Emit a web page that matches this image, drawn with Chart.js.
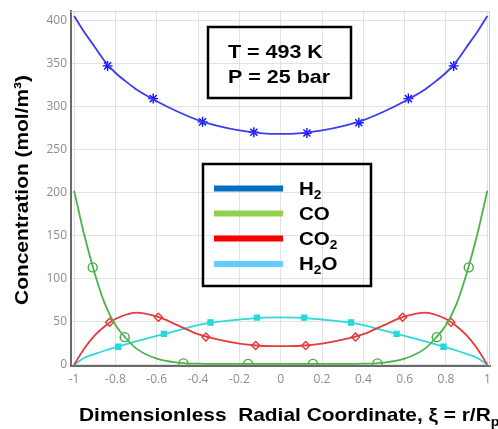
<!DOCTYPE html>
<html>
<head>
<meta charset="utf-8">
<script src="https://cdn.jsdelivr.net/npm/chart.js@4/dist/chart.umd.min.js"></script>
<style>
  html, body { margin: 0; padding: 0; background: #fff; }
  canvas { display: block; }
</style>
</head>
<body>
<canvas id="chart" width="498" height="429"></canvas>
<script>
const xi = [-1, -0.95, -0.9, -0.85, -0.8, -0.75, -0.7, -0.6, -0.5, -0.4, -0.3, -0.2, -0.1, 0,
  0.1, 0.2, 0.3, 0.4, 0.5, 0.6, 0.7, 0.75, 0.8, 0.85, 0.9, 0.95, 1];

const h2 = [405, 386, 369, 352, 339, 329, 320, 306, 294, 284, 277, 272, 269, 268,
  269, 272, 277, 284, 294, 306, 320, 329, 339, 352, 369, 386, 405];
const co = [202, 150, 106, 70, 46, 31, 19, 7, 2.5, 1.2, 1, 1, 1, 1,
  1, 1, 1, 1.2, 2.5, 7, 19, 31, 46, 70, 106, 150, 202];
const co2 = [0, 19, 34, 45, 53, 58, 60.5, 56, 46, 35.5, 29, 24.5, 22, 21.5,
  22, 24.5, 29, 35.5, 46, 56, 60.5, 58, 53, 45, 34, 19, 0];
const h2o = [0, 8, 12.5, 16.5, 20, 23.5, 27, 33.5, 39.5, 46, 50, 52.5, 54.5, 55,
  54.5, 52.5, 50, 46, 39.5, 33.5, 27, 23.5, 20, 16.5, 12.5, 8, 0];

// marker positions
const h2MarkX = [-0.838, -0.617, -0.378, -0.13, 0.127, 0.378, 0.618, 0.837];
const h2MarkY = [347, 309, 282, 270, 269, 281, 309, 347];
const coMarkX = [-0.91, -0.755, -0.471, -0.158, 0.156, 0.468, 0.755, 0.91];
const coMarkY = [113, 32, 1.5, 1, 1, 1.5, 32, 113];
const co2MarkX = [-0.828, -0.592, -0.362, -0.121, 0.121, 0.362, 0.59, 0.824];
const co2MarkY = [49.3, 55, 32.3, 22.4, 22.4, 32.3, 55, 49.3];
const h2oMarkX = [-0.786, -0.565, -0.34, -0.115, 0.113, 0.34, 0.561, 0.788];
const h2oMarkY = [20.8, 35.8, 49, 54.7, 54.7, 49, 35.8, 20.8];

const xTicks = [-1, -0.8, -0.6, -0.4, -0.2, 0, 0.2, 0.4, 0.6, 0.8, 1];
const yTicks = [0, 50, 100, 150, 200, 250, 300, 350, 400];

const species = [
  { name: 'H', sub: '2', tail: '', key: '#0070c0' },
  { name: 'CO', sub: '', tail: '', key: '#92d050' },
  { name: 'CO', sub: '2', tail: '', key: '#ff0000' },
  { name: 'H', sub: '2', tail: 'O', key: '#66ccff' },
];
const conditions = ['T = 493 K', 'P = 25 bar'];

const pts = (xs, ys) => xs.map((x, i) => ({ x: x, y: ys[i] }));

const curve = (data, color) => ({
  data: data, showLine: true, borderColor: color, borderWidth: 1.8, pointRadius: 0,
  cubicInterpolationMode: 'monotone', fill: false,
});
const marks = (data, color, style, radius, filled) => ({
  data: data, showLine: false, pointStyle: style, pointRadius: radius,
  pointBorderColor: color, pointBorderWidth: 1.4,
  pointBackgroundColor: filled ? color : 'rgba(0,0,0,0)',
});

// draws text stretched horizontally, the source text is wider than it is tall
function wideText(ctx, str, x, y, sx) {
  ctx.save();
  ctx.translate(x, y);
  ctx.scale(sx, 1);
  ctx.fillText(str, 0, 0);
  const w = ctx.measureText(str).width * sx;
  ctx.restore();
  return w;
}

const decorations = {
  id: 'decorations',
  beforeDatasetsDraw(chart) {
    const { ctx, chartArea: a } = chart;
    ctx.save();
    ctx.strokeStyle = '#cfcfcf';
    ctx.lineWidth = 1;
    ctx.beginPath();
    ctx.moveTo(a.left, a.top + 0.5);
    ctx.lineTo(a.right - 0.5, a.top + 0.5);
    ctx.lineTo(a.right - 0.5, a.bottom);
    ctx.stroke();
    ctx.restore();
  },
  afterDraw(chart) {
    const ctx = chart.ctx;
    ctx.save();
    ctx.fillStyle = '#000';
    ctx.strokeStyle = '#000';
    ctx.textBaseline = 'alphabetic';

    // conditions box
    ctx.lineWidth = 2.5;
    ctx.strokeRect(208, 27, 143, 71);
    ctx.font = 'bold 19px "Liberation Sans", Arial, sans-serif';
    wideText(ctx, conditions[0], 228, 58, 1.13);
    wideText(ctx, conditions[1], 228, 83, 1.13);

    // legend box
    ctx.strokeRect(203, 164, 168, 122);
    const rows = [188.5, 213.5, 238.5, 264];
    species.forEach((s, i) => {
      ctx.fillStyle = s.key;
      ctx.fillRect(214, rows[i] - 3, 69, 6);
      ctx.fillStyle = '#000';
      ctx.font = 'bold 18px "Liberation Sans", Arial, sans-serif';
      let x = 299;
      x += wideText(ctx, s.name, x, rows[i] + 6, 1.14);
      if (s.sub) {
        ctx.font = 'bold 12px "Liberation Sans", Arial, sans-serif';
        x += wideText(ctx, s.sub, x, rows[i] + 10, 1.14);
      }
      if (s.tail) {
        ctx.font = 'bold 18px "Liberation Sans", Arial, sans-serif';
        wideText(ctx, s.tail, x, rows[i] + 6, 1.14);
      }
    });

    // x axis title
    ctx.font = 'bold 19px "Liberation Sans", Arial, sans-serif';
    let tx = 79;
    tx += wideText(ctx, 'Dimensionless  Radial Coordinate, \u03be = r/R', tx, 421, 1.1);
    ctx.font = 'bold 13px "Liberation Sans", Arial, sans-serif';
    wideText(ctx, 'p', tx, 426, 1.1);

    // y axis title
    ctx.translate(28, 190);
    ctx.rotate(-Math.PI / 2);
    ctx.font = 'bold 19px "Liberation Sans", Arial, sans-serif';
    ctx.textAlign = 'center';
    ctx.scale(1.1, 1);
    ctx.fillText('Concentration (mol/m\u00b3)', 0, 0);
    ctx.restore();
  },
};

new Chart(document.getElementById('chart'), {
  type: 'scatter',
  data: {
    datasets: [
      curve(pts(xi, h2), '#3b3bf0'),
      curve(pts(xi, co), '#4cb34c'),
      curve(pts(xi, co2), '#e53b3b'),
      curve(pts(xi, h2o), '#2dd9dc'),
      marks(pts(h2MarkX, h2MarkY), '#1010ff', 'star', 5, false),
      marks(pts(coMarkX, coMarkY), '#3faa3f', 'circle', 4.5, false),
      marks(pts(co2MarkX, co2MarkY), '#e03a3a', 'rectRot', 4, false),
      marks(pts(h2oMarkX, h2oMarkY), '#22d8dc', 'rect', 3.5, true),
    ],
  },
  options: {
    responsive: false,
    animation: false,
    devicePixelRatio: 1,
    layout: { padding: { top: 10, right: 8, left: 0, bottom: 0 } },
    plugins: { legend: { display: false }, tooltip: { enabled: false } },
    scales: {
      x: {
        type: 'linear',
        min: -1.015,
        max: 1.013,
        afterBuildTicks: (s) => { s.ticks = xTicks.map(v => ({ value: v })); },
        afterFit: (s) => { s.height = 63; },
        grid: { color: '#e2e2e2', lineWidth: 1, drawTicks: false },
        border: { color: '#6a6a6a', width: 2 },
        ticks: {
          padding: 6,
          color: '#8c8c8c',
          font: { family: '"Open Sans", sans-serif', size: 12 },
          callback: (v) => String(v),
        },
      },
      y: {
        type: 'linear',
        min: -1.5,
        max: 410.5,
        afterBuildTicks: (s) => { s.ticks = yTicks.map(v => ({ value: v })); },
        afterFit: (s) => { s.width = 71; },
        grid: { color: '#e2e2e2', lineWidth: 1, drawTicks: false },
        border: { color: '#6a6a6a', width: 2 },
        ticks: {
          padding: 4,
          color: '#8c8c8c',
          font: { family: '"Open Sans", sans-serif', size: 12 },
        },
      },
    },
  },
  plugins: [decorations],
});
</script>
</body>
</html>
